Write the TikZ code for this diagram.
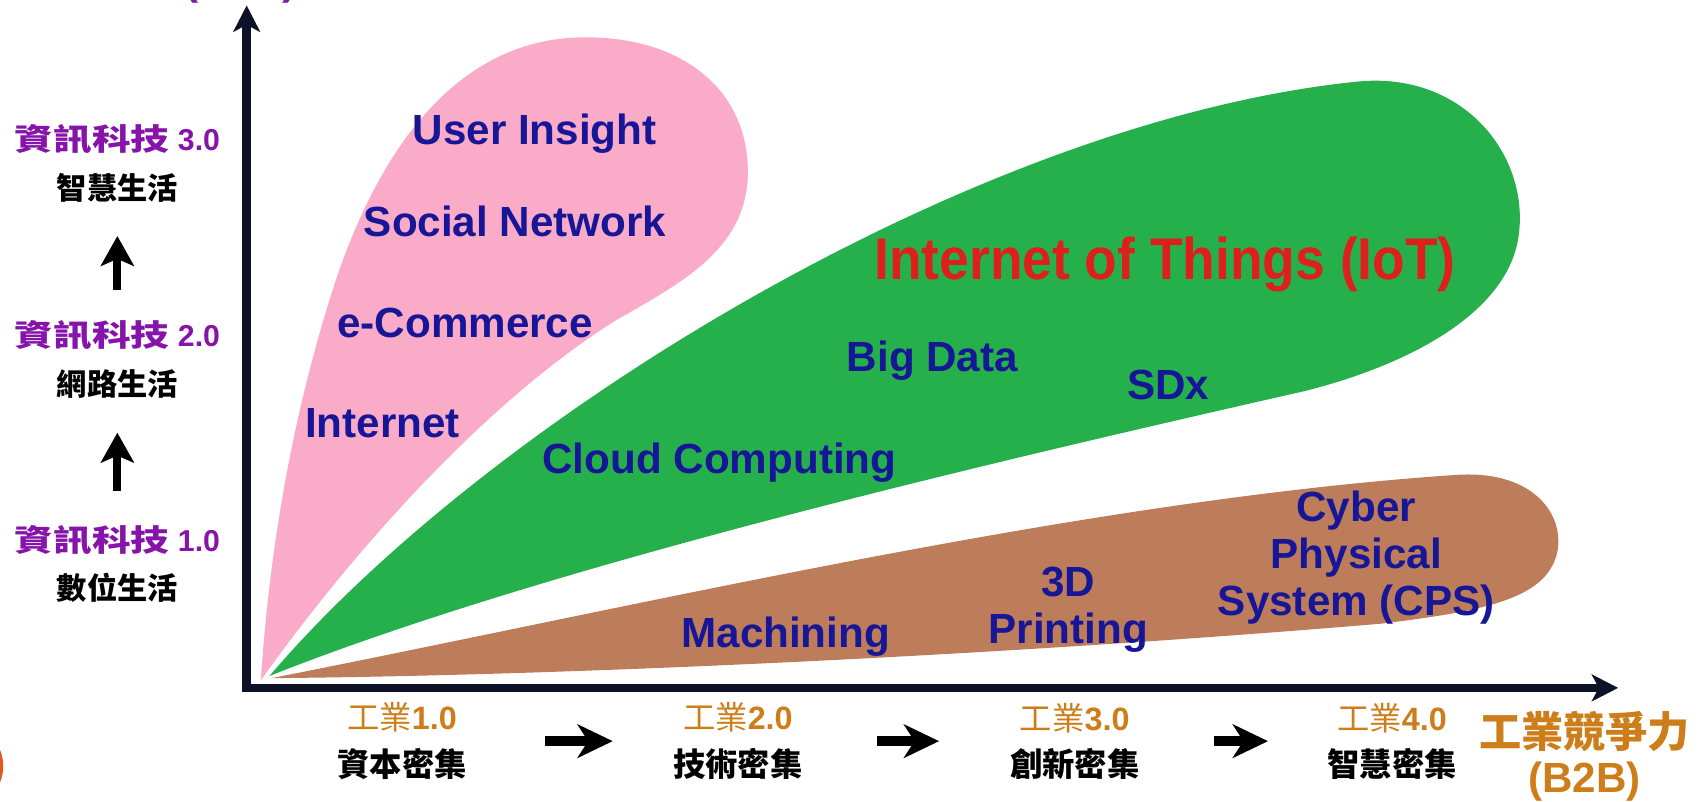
\documentclass[tikz,border=0pt]{standalone}
\usepackage{fontspec}
\usepackage{graphicx}
\setmainfont{Liberation Sans}
\newfontfamily\cjk{Noto Sans CJK TC}
\usetikzlibrary{arrows.meta}
\definecolor{pinkleaf}{RGB}{249, 171, 200}
\definecolor{greenleaf}{RGB}{38, 176, 76}
\definecolor{brownleaf}{RGB}{189, 125, 90}
\definecolor{navy}{RGB}{22, 22, 150}
\definecolor{iotred}{RGB}{222, 32, 28}
\definecolor{itpurple}{RGB}{135, 20, 170}
\definecolor{indorange}{RGB}{205, 125, 25}
\definecolor{axisdark}{RGB}{14, 18, 38}
\definecolor{dotorange}{RGB}{228, 88, 32}
\newcommand{\widecjk}[1]{\scalebox{1.28}[1]{\cjk\bfseries #1}}

\begin{document}
\begin{tikzpicture}[x=0.010867cm, y=-0.010867cm,
    tag/.style={font=\bfseries\fontsize{12}{13.3}\selectfont, text=navy, align=center, inner sep=0pt},
    itgroup/.style={font=\bfseries\fontsize{8.6}{13.9}\selectfont, align=center, inner sep=0pt},
    indgroup/.style={font=\bfseries\fontsize{9.2}{13.2}\selectfont, align=center, inner sep=0pt},
    axis/.style={draw=axisdark, line width=2.4pt, line join=miter},
    uparr/.style={line width=2.3pt, -{Stealth[length=8.5pt, width=9.4pt, inset=2pt]}},
    rarr/.style={line width=2.8pt, -{Stealth[length=10pt, width=9.5pt, inset=3pt]}}]
  \useasboundingbox (0,0) rectangle (1568,738);
  \clip (0,0) rectangle (1568,738);

  \fill[pinkleaf] (240,626)
    .. controls (247,520) and (265,400) .. (302,280)
    .. controls (338,160) and (405,45) .. (522,35)
    .. controls (622,28) and (692,80) .. (688,165)
    .. controls (684,228) and (632,258) .. (568,294)
    .. controls (452,366) and (330,500) .. cycle;
  \fill[greenleaf] (248,622)
    .. controls (450,385) and (900,110) .. (1250,75)
    .. controls (1345,66) and (1405,140) .. (1398,212)
    .. controls (1392,285) and (1300,335) .. (1200,360)
    .. controls (900,428) and (500,522) .. cycle;
  \fill[brownleaf] (250,624)
    .. controls (600,555) and (1000,460) .. (1340,437)
    .. controls (1415,432) and (1442,478) .. (1432,512)
    .. controls (1420,550) and (1370,562) .. (1270,574)
    .. controls (900,605) and (500,622) .. cycle;

  \coordinate (O) at (227,633);
  \coordinate (yend) at (227,5);
  \coordinate (xend) at (1489,633);
  \draw[axis, {Stealth[length=7.5pt, width=7.6pt, inset=2pt]}-{Stealth[length=7.5pt, width=7.6pt, inset=2pt]}]
    (yend) -- (O) -- (xend);

  \node[tag] (insight) at (492,123) {User Insight};
  \node[tag] (social) at (474,204) {Social Network};
  \node[tag] (ecom) at (428,297) {e-Commerce};
  \node[tag] (inet) at (352,389) {Internet};
  \node[tag, text=iotred, font=\bfseries\fontsize{15.5}{18}\selectfont] (iot) at (1072,243) {\scalebox{0.98}[1.08]{Internet of Things (IoT)}};
  \node[tag] (bigdata) at (858,332) {Big Data};
  \node[tag] (sdx) at (1075,354) {SDx};
  \node[tag] (cloud) at (662,426) {Cloud Computing};
  \node[tag] (machining) at (723,586) {Machining};
  \node[tag] (printing) at (983,561) {3D\\Printing};
  \node[tag] (cps) at (1248,513) {Cyber\\Physical\\System (CPS)};

  \node[itgroup] (it3) at (108,150) {\textcolor{itpurple}{\widecjk{資訊科技} 3.0}\\{\cjk 智慧生活}};
  \node[itgroup] (it2) at (108,331) {\textcolor{itpurple}{\widecjk{資訊科技} 2.0}\\{\cjk 網路生活}};
  \node[itgroup] (it1) at (108,519) {\textcolor{itpurple}{\widecjk{資訊科技} 1.0}\\{\cjk 數位生活}};
  \draw[uparr, shorten <=9.5pt, shorten >=9.5pt] (it1) -- (it2);
  \draw[uparr, shorten <=8.5pt, shorten >=9.5pt] (it2) -- (it3);

  \node[itgroup, font=\bfseries\fontsize{12}{13}\selectfont, text=itpurple, anchor=base east] (itcomp) at (274,-5) {{\cjk 資訊競爭力} (B2C)};

  \node[indgroup] (ind1) at (370,682) {\textcolor{indorange}{{\cjk\mdseries 工業}1.0}\\{\cjk 資本密集}};
  \node[indgroup] (ind2) at (679,682) {\textcolor{indorange}{{\cjk\mdseries 工業}2.0}\\{\cjk 技術密集}};
  \node[indgroup] (ind3) at (989,682) {\textcolor{indorange}{{\cjk\mdseries 工業}3.0}\\{\cjk 創新密集}};
  \node[indgroup] (ind4) at (1281,682) {\textcolor{indorange}{{\cjk\mdseries 工業}4.0}\\{\cjk 智慧密集}};
  \draw[rarr, shorten <=22pt, shorten >=17pt] (ind1) -- (ind2);
  \draw[rarr, shorten <=21pt, shorten >=20pt] (ind2) -- (ind3);
  \draw[rarr, shorten <=21pt, shorten >=16.7pt] (ind3) -- (ind4);
  \node[itgroup, font=\bfseries\fontsize{12}{13}\selectfont, text=indorange] (indcomp) at (1458,696) {{\cjk 工業競爭力}\\(B2B)};

  \fill[dotorange] (-36,705) circle (39);
\end{tikzpicture}
\end{document}
